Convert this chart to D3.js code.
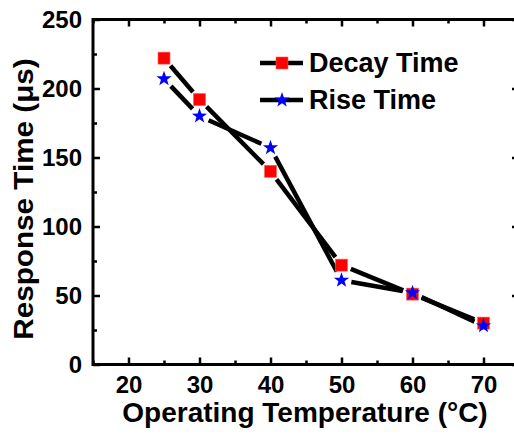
<!DOCTYPE html>
<html>
<head>
<meta charset="utf-8">
<script src="https://cdn.jsdelivr.net/npm/d3@7"></script>
<style>
  body { margin: 0; background: #fff; }
  svg { display: block; }
  text { font-family: "Liberation Sans", Arial, sans-serif; font-weight: bold; fill: #000; }
</style>
</head>
<body>
<svg id="chart" width="514" height="435"></svg>
<script>
const temperatures = [25, 30, 40, 50, 60, 70];
const decayTime = [222, 192, 140, 72, 51, 30];
const riseTime = [207, 180, 157, 61, 52, 28];
const xTicks = [20, 30, 40, 50, 60, 70];
const xMinorTicks = [15, 25, 35, 45, 55, 65, 75];
const yTicks = [0, 50, 100, 150, 200, 250];
const yMinorTicks = [25, 75, 125, 175, 225];
const seriesNames = ["Decay Time", "Rise Time"];

const svg = d3.select("#chart");
const x = d3.scaleLinear().domain([15, 75]).range([93, 519]);
const y = d3.scaleLinear().domain([0, 250]).range([364.5, 19.5]);

const axisG = svg.append("g");

function styleAxis(g) {
  g.select(".domain").remove();
  g.selectAll(".tick line").attr("stroke", "#000").attr("stroke-width", 2.5);
  g.selectAll(".tick text").style("font-size", "24px").style("font-family", '"Liberation Sans", Arial, sans-serif').style("font-weight", "bold");
}

// bottom
axisG.append("g").attr("transform", `translate(0,${y(0)})`)
  .call(d3.axisBottom(x).tickValues(xTicks).tickSize(-7).tickPadding(11).tickFormat(d3.format("d")))
  .call(styleAxis);
axisG.append("g").attr("transform", `translate(0,${y(0)})`)
  .call(d3.axisBottom(x).tickValues(xMinorTicks).tickSize(-4).tickFormat(""))
  .call(styleAxis);
// top
axisG.append("g").attr("transform", `translate(0,${y(250)})`)
  .call(d3.axisTop(x).tickValues(xTicks).tickSize(-7).tickFormat(""))
  .call(styleAxis);
axisG.append("g").attr("transform", `translate(0,${y(250)})`)
  .call(d3.axisTop(x).tickValues(xMinorTicks).tickSize(-4).tickFormat(""))
  .call(styleAxis);
// left
axisG.append("g").attr("transform", `translate(${x(15)},0)`)
  .call(d3.axisLeft(y).tickValues(yTicks).tickSize(-7).tickPadding(11).tickFormat(d3.format("d")))
  .call(styleAxis);
axisG.append("g").attr("transform", `translate(${x(15)},0)`)
  .call(d3.axisLeft(y).tickValues(yMinorTicks).tickSize(-4).tickFormat(""))
  .call(styleAxis);
// right
axisG.append("g").attr("transform", `translate(${x(75)},0)`)
  .call(d3.axisRight(y).tickValues(yTicks).tickSize(-7).tickFormat(""))
  .call(styleAxis);

// frame
svg.append("rect")
  .attr("x", x(15)).attr("y", y(250))
  .attr("width", x(75) - x(15)).attr("height", y(0) - y(250))
  .attr("fill", "none").attr("stroke", "#000").attr("stroke-width", 3);

// lines with gaps near markers
const gap = 10;
function drawGappedLine(values) {
  const pts = temperatures.map((t, i) => [x(t), y(values[i])]);
  const segs = [];
  for (let i = 0; i < pts.length - 1; i++) {
    const [x0, y0] = pts[i], [x1, y1] = pts[i + 1];
    const dx = x1 - x0, dy = y1 - y0, L = Math.hypot(dx, dy);
    const ux = dx / L, uy = dy / L;
    segs.push([[x0 + ux * gap, y0 + uy * gap], [x1 - ux * gap, y1 - uy * gap]]);
  }
  svg.append("g").selectAll("path").data(segs).join("path")
    .attr("d", d3.line())
    .attr("fill", "none").attr("stroke", "#000").attr("stroke-width", 4.5).attr("stroke-linecap", "butt");
}
drawGappedLine(decayTime);
drawGappedLine(riseTime);

function starPath(cx, cy, R) {
  const r = R * 0.40;
  const p = [];
  for (let i = 0; i < 10; i++) {
    const a = -Math.PI / 2 + i * Math.PI / 5;
    const rr = i % 2 === 0 ? R : r;
    p.push([cx + rr * Math.cos(a), cy + rr * Math.sin(a)]);
  }
  return "M" + p.map(d => d.join(",")).join("L") + "Z";
}

const sq = 12;
svg.append("g").selectAll("rect").data(temperatures).join("rect")
  .attr("x", (d) => x(d) - sq / 2)
  .attr("y", (d, i) => y(decayTime[i]) - sq / 2)
  .attr("width", sq).attr("height", sq)
  .attr("fill", "#ff0000").attr("stroke", "#ff6060").attr("stroke-width", 0.6);

svg.append("g").selectAll("path").data(temperatures).join("path")
  .attr("d", (d, i) => starPath(x(d), y(riseTime[i]), 8))
  .attr("fill", "#0000ff");

// legend
const leg = svg.append("g");
const legY = [63, 100];
seriesNames.forEach((name, i) => {
  leg.append("line").attr("x1", 260).attr("x2", 303).attr("y1", legY[i]).attr("y2", legY[i])
    .attr("stroke", "#000").attr("stroke-width", 4.5);
  if (i === 0) {
    leg.append("rect").attr("x", 282 - sq / 2).attr("y", legY[i] - sq / 2).attr("width", sq).attr("height", sq)
      .attr("fill", "#ff0000").attr("stroke", "#ff6060").attr("stroke-width", 0.6);
  } else {
    leg.append("path").attr("d", starPath(282, legY[i], 8)).attr("fill", "#0000ff");
  }
  leg.append("text").attr("x", 309).attr("y", legY[i] + 8.5)
    .style("font-size", "27px").text(name);
});

// axis titles
svg.append("text").attr("x", 305).attr("y", 422).attr("text-anchor", "middle")
  .style("font-size", "28px").text("Operating Temperature (°C)");
svg.append("text").attr("transform", "translate(33,199) rotate(-90) scale(1.06,1)").attr("text-anchor", "middle")
  .style("font-size", "28px").text("Response Time (μs)");
</script>
</body>
</html>
